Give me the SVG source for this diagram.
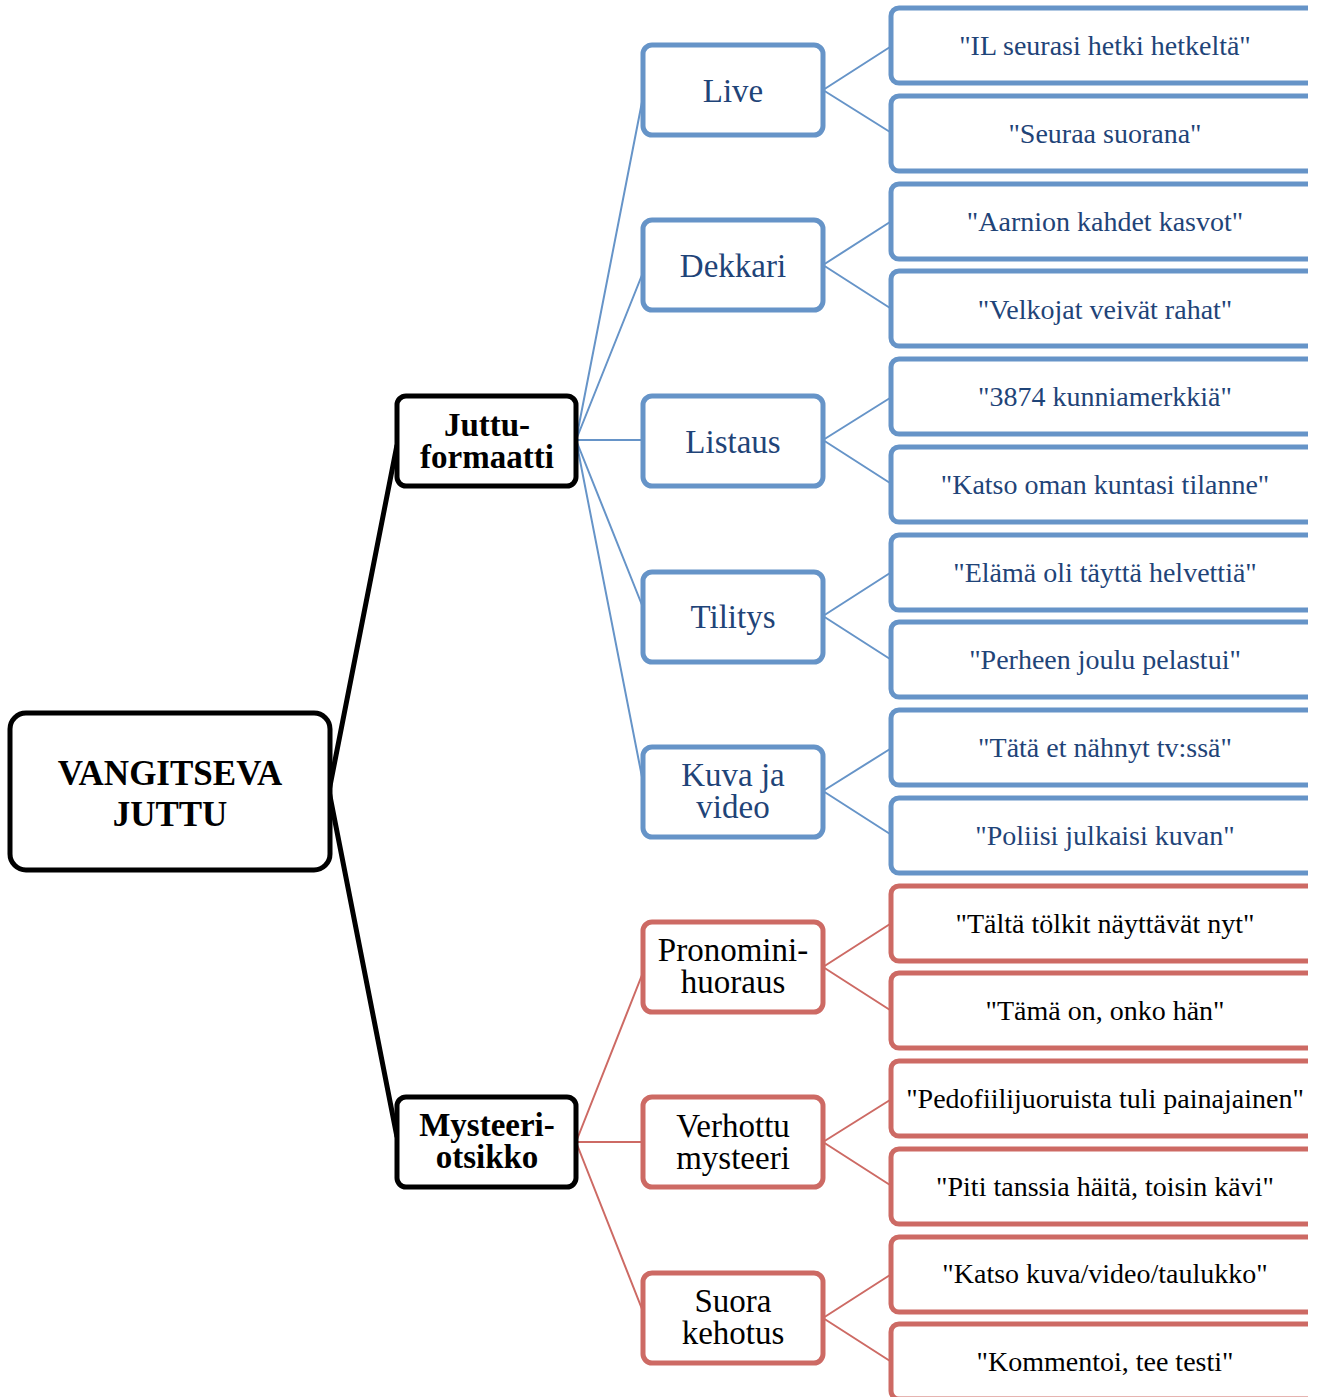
<svg xmlns="http://www.w3.org/2000/svg" width="1317" height="1397" viewBox="0 0 1317 1397">
<style>
text{font-family:"Liberation Serif","DejaVu Serif",serif;text-anchor:middle}
.root rect,.l1 rect{fill:#fff;stroke:#000;stroke-width:5}
.root text{font-size:35px;font-weight:bold;fill:#000}
.l1 text{font-size:33px;font-weight:bold;fill:#000}
.b rect{fill:#fff;stroke:#6694c8;stroke-width:5}
.r rect{fill:#fff;stroke:#cd6a64;stroke-width:5}
.b text{fill:#1f4478}
.r text{fill:#000}
.l2 text{font-size:33px}
.l3 text{font-size:28px}
.cb{stroke:#6694c8;stroke-width:2;fill:none}
.cr{stroke:#cd6a64;stroke-width:2;fill:none}
.ck{stroke:#000;stroke-width:5;fill:none}
</style>
<defs>
<clipPath id="clip"><rect x="0" y="0" width="1308" height="1397"/></clipPath>
</defs>
<rect width="1317" height="1397" fill="#fff"/>
<g id="connectors">
<path class="ck" d="M329,791 L397,445 M329,791 L397,1137"/>
<path class="cb" d="M576,440 L642,102 M576,440 L642,275 M576,440 L642,440 M576,440 L642,605 M576,440 L642,777"/>
<path class="cr" d="M576,1142 L642,975 M576,1142 L642,1142 M576,1142 L642,1309"/>
<path class="cb" d="M823,90 L890,47 M823,90 L890,132 M823,265 L890,222 M823,265 L890,308 M823,440 L890,398 M823,440 L890,483 M823,616 L890,573 M823,616 L890,659 M823,791 L890,749 M823,791 L890,834"/>
<path class="cr" d="M823,967 L890,924 M823,967 L890,1010 M823,1142 L890,1100 M823,1142 L890,1185 M823,1318 L890,1275 M823,1318 L890,1361"/>
</g>
<g id="root" class="root"><rect x="10" y="713" width="320" height="157" rx="16"/><text x="170" y="785">VANGITSEVA</text><text x="170" y="826">JUTTU</text></g>
<g id="juttuformaatti" class="l1"><rect x="397" y="396" width="179" height="90" rx="9"/><text x="487" y="436">Juttu-</text><text x="487" y="468">formaatti</text></g>
<g id="mysteeriotsikko" class="l1"><rect x="397" y="1097" width="179" height="90" rx="9"/><text x="487" y="1136">Mysteeri-</text><text x="487" y="1168">otsikko</text></g>
<g id="live" class="l2 b"><rect x="643" y="45" width="180" height="90" rx="9"/><text x="733" y="102">Live</text></g>
<g id="dekkari" class="l2 b"><rect x="643" y="220" width="180" height="90" rx="9"/><text x="733" y="277">Dekkari</text></g>
<g id="listaus" class="l2 b"><rect x="643" y="396" width="180" height="90" rx="9"/><text x="733" y="453">Listaus</text></g>
<g id="tilitys" class="l2 b"><rect x="643" y="572" width="180" height="90" rx="9"/><text x="733" y="628">Tilitys</text></g>
<g id="kuvajavideo" class="l2 b"><rect x="643" y="747" width="180" height="90" rx="9"/><text x="733" y="786">Kuva ja</text><text x="733" y="818">video</text></g>
<g id="pronomini" class="l2 r"><rect x="643" y="922" width="180" height="90" rx="9"/><text x="733" y="961">Pronomini-</text><text x="733" y="993">huoraus</text></g>
<g id="verhottu" class="l2 r"><rect x="643" y="1097" width="180" height="90" rx="9"/><text x="733" y="1137">Verhottu</text><text x="733" y="1169">mysteeri</text></g>
<g id="suora" class="l2 r"><rect x="643" y="1273" width="180" height="90" rx="9"/><text x="733" y="1312">Suora</text><text x="733" y="1344">kehotus</text></g>
<g clip-path="url(#clip)">
<g id="t1" class="l3 b"><rect x="891" y="8" width="440" height="75" rx="8"/><text x="1105" y="55">"IL seurasi hetki hetkeltä"</text></g>
<g id="t2" class="l3 b"><rect x="891" y="96" width="440" height="75" rx="8"/><text x="1105" y="143">"Seuraa suorana"</text></g>
<g id="t3" class="l3 b"><rect x="891" y="184" width="440" height="75" rx="8"/><text x="1105" y="231">"Aarnion kahdet kasvot"</text></g>
<g id="t4" class="l3 b"><rect x="891" y="271" width="440" height="75" rx="8"/><text x="1105" y="319">"Velkojat veivät rahat"</text></g>
<g id="t5" class="l3 b"><rect x="891" y="359" width="440" height="75" rx="8"/><text x="1105" y="406">"3874 kunniamerkkiä"</text></g>
<g id="t6" class="l3 b"><rect x="891" y="447" width="440" height="75" rx="8"/><text x="1105" y="494">"Katso oman kuntasi tilanne"</text></g>
<g id="t7" class="l3 b"><rect x="891" y="535" width="440" height="75" rx="8"/><text x="1105" y="582">"Elämä oli täyttä helvettiä"</text></g>
<g id="t8" class="l3 b"><rect x="891" y="622" width="440" height="75" rx="8"/><text x="1105" y="669">"Perheen joulu pelastui"</text></g>
<g id="t9" class="l3 b"><rect x="891" y="710" width="440" height="75" rx="8"/><text x="1105" y="757">"Tätä et nähnyt tv:ssä"</text></g>
<g id="t10" class="l3 b"><rect x="891" y="798" width="440" height="75" rx="8"/><text x="1105" y="845">"Poliisi julkaisi kuvan"</text></g>
<g id="t11" class="l3 r"><rect x="891" y="886" width="440" height="75" rx="8"/><text x="1105" y="933">"Tältä tölkit näyttävät nyt"</text></g>
<g id="t12" class="l3 r"><rect x="891" y="973" width="440" height="75" rx="8"/><text x="1105" y="1020">"Tämä on, onko hän"</text></g>
<g id="t13" class="l3 r"><rect x="891" y="1061" width="440" height="75" rx="8"/><text x="1105" y="1108">"Pedofiilijuoruista tuli painajainen"</text></g>
<g id="t14" class="l3 r"><rect x="891" y="1149" width="440" height="75" rx="8"/><text x="1105" y="1196">"Piti tanssia häitä, toisin kävi"</text></g>
<g id="t15" class="l3 r"><rect x="891" y="1237" width="440" height="75" rx="8"/><text x="1105" y="1283">"Katso kuva/video/taulukko"</text></g>
<g id="t16" class="l3 r"><rect x="891" y="1324" width="440" height="75" rx="8"/><text x="1105" y="1371">"Kommentoi, tee testi"</text></g>
</g>
</svg>
